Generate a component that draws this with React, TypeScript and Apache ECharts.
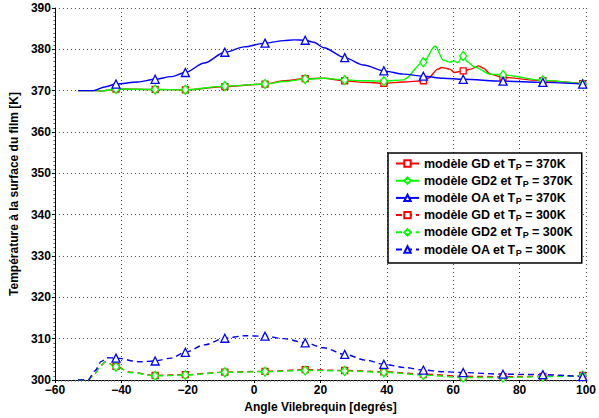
import React, { useEffect, useRef } from "react";
import * as echarts from "echarts";

// Crank angle (deg) vs film surface temperature (K)
const MARKER_ANGLES = [-41.6, -29.8, -20.7, -8.8, 3.3, 15.4, 27.3, 39.1, 51, 63, 75, 87, 99];

const GD_370: number[][] = [
  [-53, 370], [-48, 370], [-46, 369.9], [-41.6, 370.4], [-29.8, 370.3], [-20.7, 370.2],
  [-8.8, 371.0], [3.3, 371.6], [9, 372.4], [15.4, 372.9], [21, 373.0], [27.3, 372.4],
  [33, 372.0], [39.1, 371.8], [45, 372.1], [51, 372.4], [52.4, 373.0], [55.4, 375.2],
  [56.4, 375.6], [57.9, 375.4], [58.9, 375.2], [60.3, 374.4], [63, 374.8], [65.3, 375.2],
  [67.6, 376.0], [69.2, 375.4], [71.2, 374.0], [75, 373.2], [87, 372.4], [99, 371.7],
];
const GD2_370: number[][] = [
  [-53, 370], [-48, 370], [-46, 369.9], [-41.6, 370.4], [-29.8, 370.3], [-20.7, 370.2],
  [-8.8, 371.1], [3.3, 371.6], [9, 372.2], [15.4, 372.8], [21, 373.0], [27.3, 372.6],
  [33, 372.4], [39.1, 372.3], [45, 372.6], [51, 376.9], [54.6, 380.8], [57, 377.4],
  [58.9, 376.9], [60.3, 377.2], [61.3, 376.8], [63, 378.4], [64.3, 377.0], [66.3, 375.8],
  [71.2, 374.0], [75, 373.8], [87, 372.5], [99, 371.6],
];
const OA_370: number[][] = [
  [-53, 370], [-48.5, 370], [-45, 370.9], [-41.6, 371.6], [-35, 372.1], [-29.8, 372.75],
  [-25, 373.4], [-20.7, 374.4], [-15, 376.7], [-8.8, 379.3], [-3, 380.6], [3.3, 381.5],
  [9, 382.1], [12, 382.3], [15.4, 382.2], [18, 381.7], [21, 380.4], [27.3, 378.0],
  [33, 376.2], [39.1, 374.8], [45, 374.0], [51, 373.5], [57, 373.0], [63, 372.75],
  [75, 372.3], [87, 372.0], [99, 371.6],
];
const GD_300: number[][] = [
  [-53, 300], [-50, 300], [-48, 301.6], [-46, 303.6], [-44.8, 304.4], [-41.6, 303.3],
  [-37.4, 301.9], [-29.8, 301.1], [-20.7, 301.3], [-8.8, 301.9], [3.3, 302.1], [15.4, 302.5],
  [27.3, 302.3], [39.1, 302.0], [51, 301.4], [63, 300.9], [75, 300.8], [87, 300.9], [99, 301.1],
];
const GD2_300: number[][] = [
  [-53, 300], [-50, 300], [-48, 301.6], [-46, 303.6], [-44.8, 304.4], [-41.6, 303.2],
  [-37.4, 301.8], [-29.8, 301.0], [-20.7, 301.2], [-8.8, 301.85], [3.3, 302.0], [15.4, 302.3],
  [27.3, 302.2], [39.1, 301.85], [51, 301.2], [63, 300.6], [75, 300.6], [87, 300.8], [99, 301.0],
];
const OA_300: number[][] = [
  [-53, 300], [-50, 300], [-48, 302.2], [-46, 304.5], [-44.3, 305.4], [-41.6, 305.3],
  [-34.5, 304.4], [-29.8, 304.6], [-25, 305.3], [-20.7, 306.7], [-15, 308.5], [-8.8, 310.1],
  [-2.9, 310.7], [3.3, 310.6], [9, 310.0], [15.4, 309.0], [21, 307.8], [27.3, 306.2],
  [33.7, 304.8], [39.1, 303.8], [45.5, 303.0], [51, 302.4], [57, 302.0], [63, 301.8],
  [75, 301.4], [87, 301.3], [99, 300.8],
];

const SERIES_NAMES = [
  "modèle GD et T_P = 370K",
  "modèle GD2 et T_P = 370K",
  "modèle OA et T_P = 370K",
  "modèle GD et T_P = 300K",
  "modèle GD2 et T_P = 300K",
  "modèle OA et T_P = 300K",
];

const X_MIN = -60, X_MAX = 100, X_STEP = 20;
const Y_MIN = 300, Y_MAX = 390, Y_STEP = 10;

const FONT = "'Liberation Sans', Arial, Helvetica, sans-serif";
const RED = "#ff0000", GREEN = "#00ff00", BLUE = "#0000ff";

function makeSeries(name: string, pts: number[][], color: string, symbol: string, size: any, dashed: boolean) {
  return {
    type: "line",
    name,
    symbol,
    symbolSize: size,
    showSymbol: true,
    showAllSymbol: true,
    smooth: 0.3,
    smoothMonotone: "x",
    lineStyle: { color, width: 1.4, type: dashed ? [6, 4] : "solid" },
    itemStyle: { color: "#ffffff", borderColor: color, borderWidth: 1.3 },
    emphasis: { disabled: true },
    data: pts.map((p) => ({
      value: p,
      symbol: MARKER_ANGLES.includes(p[0]) ? symbol : "none",
    })),
  };
}

export default function App() {
  const ref = useRef<HTMLDivElement>(null);
  useEffect(() => {
    if (!ref.current) return;
    const chart = echarts.init(ref.current, null, { renderer: "svg" });
    const axisText = { fontFamily: FONT, fontSize: 12, fontWeight: "bold", color: "#000" };
    const grid = { show: true, lineStyle: { color: "#444", width: 1, type: [1, 3] } };
    const option: any = {
      animation: false,
      backgroundColor: "#ffffff",
      grid: { left: 51, right: 9, top: 8, bottom: 38 },
      legend: {
        orient: "vertical",
        left: 388,
        top: 153,
        padding: [4, 9, 6, 7],
        itemGap: 3.2,
        itemWidth: 23,
        itemHeight: 8,
        backgroundColor: "#ffffff",
        borderColor: "#000",
        borderWidth: 1.5,
        data: SERIES_NAMES,
        formatter: (name: string) => {
          const [a, b] = name.split("T_P");
          return `{m|${a}T}{s|P}{m|${b}}`;
        },
        textStyle: {
          fontFamily: FONT,
          fontSize: 12.5,
          fontWeight: "bold",
          color: "#000",
          rich: {
            m: { fontFamily: FONT, fontSize: 12.5, fontWeight: "bold", color: "#000", lineHeight: 15 },
            s: { fontFamily: FONT, fontSize: 9, fontWeight: "bold", color: "#000", verticalAlign: "bottom" },
          },
        },
      },
      xAxis: {
        type: "value",
        min: X_MIN,
        max: X_MAX,
        interval: X_STEP,
        name: "Angle Vilebrequin [degrés]",
        nameLocation: "middle",
        nameGap: 14,
        nameTextStyle: axisText,
        axisLine: { show: true, onZero: false, lineStyle: { color: "#000", width: 1 } },
        axisTick: { show: true, inside: false, length: 3, lineStyle: { color: "#000" } },
        minorTick: { show: true, splitNumber: 20, length: 1.5, lineStyle: { color: "#555" } },
        axisLabel: {
          ...axisText,
          margin: 4,
          formatter: (v: number) => (v < 0 ? "\u2212" + Math.abs(v) : String(v)),
        },
        splitLine: grid,
      },
      yAxis: {
        type: "value",
        min: Y_MIN,
        max: Y_MAX,
        interval: Y_STEP,
        name: "Température à la surface du film [K]",
        nameLocation: "middle",
        nameGap: 30,
        nameTextStyle: axisText,
        axisLine: { show: true, onZero: false, lineStyle: { color: "#000", width: 1 } },
        axisTick: { show: true, inside: false, length: 3, lineStyle: { color: "#000" } },
        minorTick: { show: true, splitNumber: 10, length: 1.5, lineStyle: { color: "#555" } },
        axisLabel: { ...axisText, margin: 4 },
        splitLine: grid,
      },
      series: [
        makeSeries(SERIES_NAMES[0], GD_370, RED, "rect", 6, false),
        makeSeries(SERIES_NAMES[1], GD2_370, GREEN, "diamond", [7, 9], false),
        makeSeries(SERIES_NAMES[2], OA_370, BLUE, "triangle", 8, false),
        makeSeries(SERIES_NAMES[3], GD_300, RED, "rect", 6, true),
        makeSeries(SERIES_NAMES[4], GD2_300, GREEN, "diamond", [7, 9], true),
        makeSeries(SERIES_NAMES[5], OA_300, BLUE, "triangle", 8, true),
      ],
    };
    chart.setOption(option);
    return () => chart.dispose();
  }, []);
  return (
    <div
      ref={ref}
      style={{ position: "fixed", left: 0, top: 0, width: 599, height: 418 }}
    />
  );
}
